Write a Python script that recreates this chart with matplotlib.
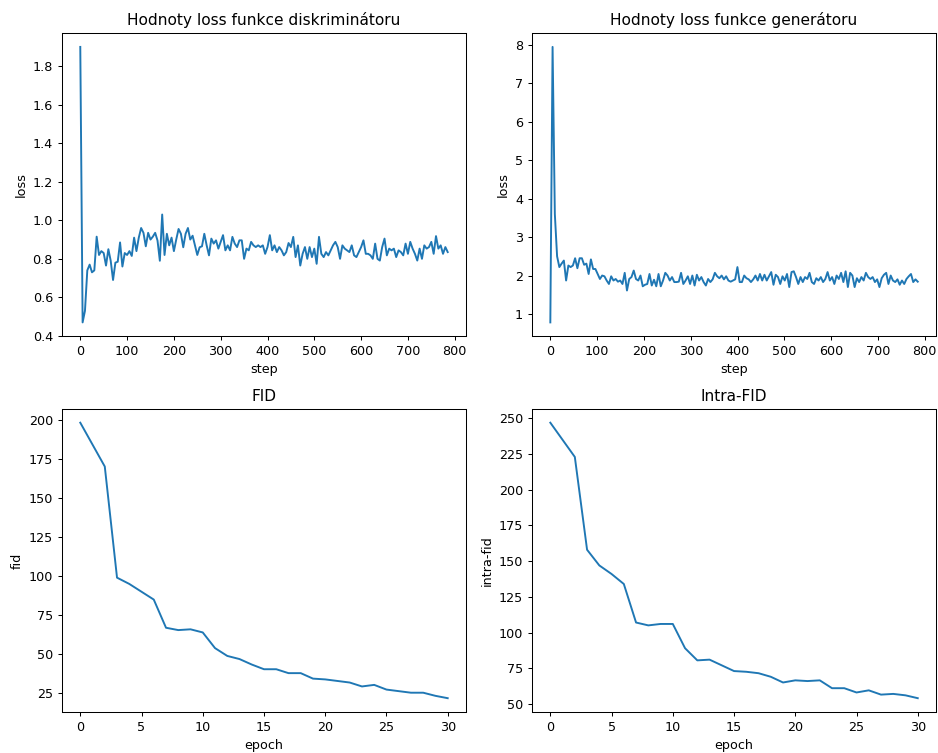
import numpy as np
import matplotlib
matplotlib.use("Agg")
import matplotlib.pyplot as plt

d_loss = [1.90, 0.47, 0.53, 0.74, 0.77, 0.73, 0.74, 0.915, 0.82, 0.84, 0.83, 0.765, 0.85, 0.79,
          0.69, 0.78, 0.785, 0.885, 0.76, 0.83, 0.82, 0.84, 0.815, 0.91, 0.84, 0.91, 0.96, 0.935,
          0.865, 0.935, 0.90, 0.915, 0.935, 0.895, 0.79, 1.03, 0.82, 0.93, 0.87, 0.91, 0.84, 0.90,
          0.955, 0.93, 0.86, 0.93, 0.96, 0.90, 0.92, 0.87, 0.82, 0.86, 0.865, 0.93,
          0.870, 0.818, 0.905, 0.879, 0.896, 0.853, 0.888, 0.923, 0.844, 0.870, 0.844, 0.914,
          0.879, 0.861, 0.896, 0.896, 0.80, 0.853, 0.844, 0.888, 0.870, 0.861, 0.870, 0.861,
          0.870, 0.826, 0.861, 0.923, 0.844, 0.870, 0.835, 0.861, 0.844, 0.818, 0.835, 0.882,
          0.861, 0.914, 0.809, 0.870, 0.765, 0.826, 0.861, 0.80, 0.861, 0.809, 0.853, 0.774,
          0.914, 0.826, 0.809, 0.835, 0.818,
          0.844, 0.870, 0.888, 0.861, 0.80, 0.870, 0.853, 0.844, 0.835, 0.870, 0.818, 0.809,
          0.835, 0.861, 0.896, 0.826, 0.826, 0.818, 0.80, 0.879, 0.80, 0.791, 0.861, 0.905,
          0.818, 0.853, 0.844, 0.853, 0.809, 0.844, 0.835, 0.818, 0.879, 0.826, 0.888, 0.853,
          0.826, 0.791, 0.853, 0.80, 0.870, 0.853, 0.861, 0.888, 0.826, 0.918, 0.853, 0.870,
          0.826, 0.861, 0.835]

g_loss = [0.78, 7.95, 3.6, 2.5, 2.22,
          2.31, 2.39, 1.87, 2.26, 2.22, 2.26, 2.45, 2.19, 2.45, 2.45, 2.28, 2.31, 2.04, 2.42,
          2.17, 2.17, 2.04, 1.91, 2.0, 1.98, 1.87, 1.78, 1.98, 1.87, 1.91, 1.84, 1.87, 1.78,
          2.07, 1.61, 1.91, 1.96, 2.13, 1.91, 1.87, 2.0, 1.72, 1.76, 1.78, 2.04, 1.74, 1.89,
          1.72, 2.04, 1.72, 1.87, 2.07, 2.0, 1.87, 1.96, 1.83,
          1.83, 1.84, 2.07, 1.78, 1.87, 1.98, 1.78, 2.0, 1.74, 2.02, 1.87, 1.96, 1.83, 1.74,
          1.91, 1.83, 1.90, 2.07, 1.98, 1.93, 2.0, 1.90, 1.98, 1.87, 1.84, 1.87, 1.90, 2.22,
          1.83, 1.83, 2.0, 1.93, 1.90, 1.83, 1.90, 2.0, 1.87, 2.04, 1.87, 2.02, 1.87, 1.98,
          2.09, 1.76, 2.02, 1.96, 1.78, 1.98, 1.87, 2.04, 1.70, 2.09, 2.11, 1.96, 1.78,
          1.96, 1.83, 1.96, 1.91, 2.07, 1.83, 1.78, 1.93, 1.87, 1.96, 1.83, 1.91, 2.09, 1.87,
          1.96, 1.78, 2.0, 1.91, 2.07, 1.83, 2.11, 1.70, 2.07, 2.0, 1.70, 1.93, 1.83, 1.96,
          1.87, 2.07, 1.96, 1.91, 1.96, 1.83, 1.90, 1.70, 1.93, 2.02, 2.07, 1.78, 2.0, 1.87,
          1.83, 1.90, 1.76, 1.87, 1.78, 1.91, 1.98, 2.04, 1.83, 1.90, 1.84]

last_step = 785
d_steps = np.linspace(0, last_step, len(d_loss))
g_steps = np.linspace(0, last_step, len(g_loss))

epochs = np.arange(31)
fid = [198, 184, 170, 99, 95, 90, 85, 67, 65.5, 66, 64, 54, 49, 47, 43.5, 40.5, 40.5, 38, 38,
       34.5, 34, 33, 32, 29.5, 30.5, 27.5, 26.5, 25.5, 25.5, 23.5, 22]
intra_fid = [247, 235, 223, 158, 147, 141, 134, 107, 105, 106, 106, 89, 80.5, 81, 77, 73,
             72.5, 71.5, 69, 65, 66.5, 66, 66.5, 61, 61, 58, 59.5, 56.5, 57, 56, 54]

# reference text is ~0.92x the default size, so render at 92 dpi on a larger canvas
fig, axs = plt.subplots(2, 2, figsize=(938 / 92, 753 / 92), dpi=92)
fig.subplots_adjust(left=0.066, right=0.998, top=0.956, bottom=0.0545, wspace=0.163, hspace=0.24)

ax = axs[0, 0]
ax.plot(d_steps, d_loss)
ax.set_title("Hodnoty loss funkce diskriminátoru")
ax.set_xlabel("step")
ax.set_ylabel("loss")

ax = axs[0, 1]
ax.plot(g_steps, g_loss)
ax.set_title("Hodnoty loss funkce generátoru")
ax.set_xlabel("step")
ax.set_ylabel("loss")

ax = axs[1, 0]
ax.plot(epochs, fid)
ax.set_title("FID")
ax.set_xlabel("epoch")
ax.set_ylabel("fid")

ax = axs[1, 1]
ax.plot(epochs, intra_fid)
ax.set_title("Intra-FID")
ax.set_xlabel("epoch")
ax.set_ylabel("intra-fid")

fig.savefig("out.png", dpi=92)
